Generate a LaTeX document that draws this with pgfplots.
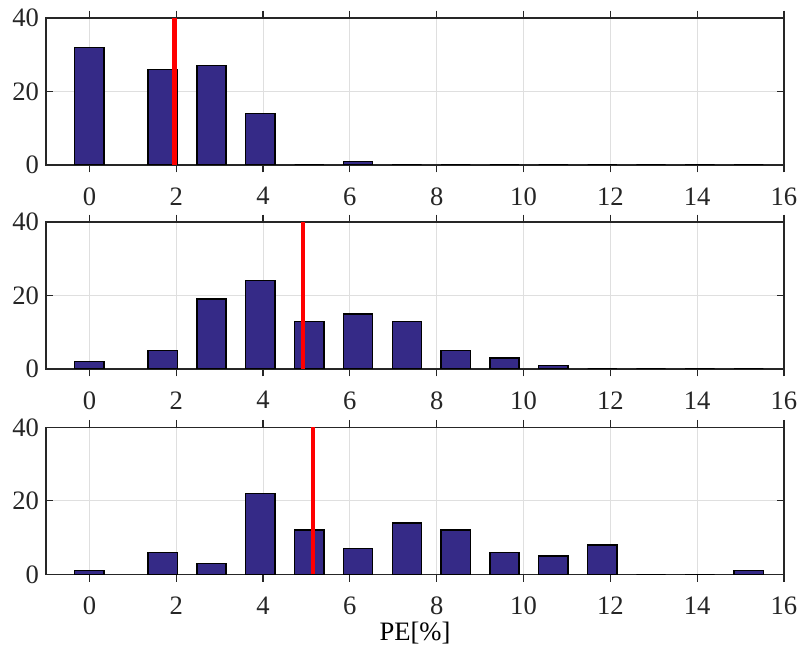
\documentclass[border=0pt]{standalone}
\usepackage{fontspec}
\setmainfont{Liberation Serif}
\usepackage{pgfplots}
\usepackage{pgfplotstable}
\pgfplotsset{compat=1.18}
\definecolor{BarBlue}{HTML}{352A87}
\definecolor{AxGray}{HTML}{262626}
\definecolor{GridGray}{HTML}{DFDFDF}

% bin centres and counts for the three panels
\pgfplotstableread{
x       a   b   c
0       32  2   1
1.6875  26  5   6
2.8125  27  19  3
3.9375  14  24  22
5.0625  0   13  12
6.1875  1   15  7
7.3125  0   13  14
8.4375  0   5   12
9.5625  0   3   6
10.6875 0   1   5
11.8125 0   0   8
12.9375 0   0   0
14.0625 0   0   0
15.1875 0   0   1
}\hdata

\pgfplotsset{
  peaxis/.style={
    scale only axis, width=369pt, height=73.5pt,
    anchor=south west,
    xmin=-1, xmax=16, ymin=0, ymax=40,
    xtick={0,2,...,16}, ytick={0,20,40},
    font=\fontsize{13.3}{16}\selectfont,
    /pgf/number format/assume math mode=true,
    ticklabel style={color=AxGray},
    axis line style={color=AxGray, line width=0.6pt},
    tick style={color=AxGray, line width=0.6pt},
    major tick length=3.7pt,
    tick align=inside,
    xtick pos=both, ytick pos=both,
    xticklabel pos=bottom, yticklabel pos=left,
    xticklabel style={yshift=-4pt},
    grid=major, major grid style={GridGray, line width=0.5pt},
    ybar, bar width=0.675,
  },
  pebar/.style={fill=BarBlue, draw=black, line width=0.7pt},
  peline/.style={red, line width=2.2pt, mark=none, sharp plot},
}

\begin{document}
\begin{tikzpicture}
\path[use as bounding box] (0,0) rectangle (400pt,324.5pt);

\begin{axis}[peaxis, at={(23pt,242pt)}]
\addplot[pebar] table[x=x,y=a] {\hdata};
\addplot[peline] coordinates {(1.96,0) (1.96,40)};
\end{axis}

\begin{axis}[peaxis, at={(23pt,140pt)}]
\addplot[pebar] table[x=x,y=b] {\hdata};
\addplot[peline] coordinates {(4.92,0) (4.92,40)};
\end{axis}

\begin{axis}[peaxis, at={(23pt,37.35pt)}, xlabel={PE[\%]},
  xlabel style={yshift=3pt}]
\addplot[pebar] table[x=x,y=c] {\hdata};
\addplot[peline] coordinates {(5.15,0) (5.15,40)};
\end{axis}
\end{tikzpicture}
\end{document}
